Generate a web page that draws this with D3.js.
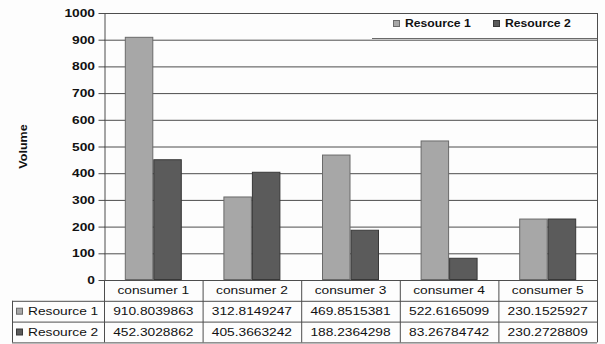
<!DOCTYPE html>
<html>
<head>
<meta charset="utf-8">
<script src="https://cdn.jsdelivr.net/npm/d3@7/dist/d3.min.js"></script>
<style>
  html, body { margin: 0; padding: 0; background: #fdfdfd; }
  svg { display: block; font-family: "Liberation Sans", Arial, sans-serif; }
</style>
</head>
<body>
<svg id="chart" width="605" height="344"></svg>
<script>
// Categories and series
const categories = ["consumer 1", "consumer 2", "consumer 3", "consumer 4", "consumer 5"];
const seriesNames = ["Resource 1", "Resource 2"];
const resource1 = [910.8039863, 312.8149247, 469.8515381, 522.6165099, 230.1525927];
const resource2 = [452.3028862, 405.3663242, 188.2364298, 83.26784742, 230.2728809];
const yTicks = [0, 100, 200, 300, 400, 500, 600, 700, 800, 900, 1000];
const seriesValues = [resource1, resource2];

const fills = ["#a7a7a7", "#5b5b5b"];
const strokes = ["#6a6a6a", "#383838"];
const ink = "#111";
const lineCol = "#4d4d4d";
const SX = 1.25; // horizontal text stretch

const svg = d3.select("#chart");

const plot = { left: 104, right: 597, top: 13, bottom: 280 };
const tableLeft = 12;
const rowH = 20.8;

const y = d3.scaleLinear().domain([0, 1000]).range([plot.bottom, plot.top]);
const x0 = d3.scaleBand().domain(categories).range([plot.left, plot.right]).padding(0);
const x1 = d3.scaleBand().domain(seriesNames).range([0, x0.bandwidth()])
  .paddingInner(0).paddingOuter(0.73);

function stretched(g, txt, x, yy, opts) {
  opts = opts || {};
  return g.append("text")
    .attr("transform", `translate(${x},${yy}) scale(${opts.sx || SX},1)`)
    .attr("text-anchor", opts.anchor || "middle")
    .attr("dominant-baseline", "central")
    .attr("font-size", opts.size || 11)
    .attr("font-weight", opts.bold ? "bold" : "normal")
    .attr("fill", ink)
    .text(txt);
}

// Horizontal gridlines
svg.append("g").selectAll("line").data(yTicks.filter(d => d > 0)).join("line")
  .attr("x1", plot.left).attr("x2", plot.right)
  .attr("y1", d => y(d) + 0.5).attr("y2", d => y(d) + 0.5)
  .attr("stroke", lineCol).attr("stroke-width", 1);

// Bars
const groups = svg.append("g").selectAll("g").data(categories).join("g")
  .attr("transform", c => `translate(${x0(c)},0)`);
groups.selectAll("rect")
  .data((c, i) => seriesNames.map((s, k) => ({ s, k, v: seriesValues[k][i] })))
  .join("rect")
  .attr("x", d => x1(d.s) + 0.5)
  .attr("y", d => y(d.v) + 0.5)
  .attr("width", x1.bandwidth() - 1)
  .attr("height", d => y(0) - y(d.v) - 1)
  .attr("fill", d => fills[d.k])
  .attr("stroke", d => strokes[d.k])
  .attr("stroke-width", 1);

// Y axis
const yAxis = svg.append("g")
  .attr("transform", `translate(${plot.left + 0.5},0)`)
  .call(d3.axisLeft(y).tickValues(yTicks).tickSize(6).tickSizeOuter(0).tickFormat(d3.format("d")));
yAxis.select(".domain").attr("stroke", lineCol);
yAxis.selectAll(".tick line").attr("stroke", lineCol);
yAxis.selectAll(".tick text")
  .attr("x", -9.5 / SX)
  .attr("transform", `scale(${SX},1)`)
  .attr("font-size", 11)
  .attr("font-weight", "bold")
  .attr("font-family", "Liberation Sans, Arial, sans-serif")
  .attr("fill", ink);

// Y axis title
svg.append("text")
  .attr("transform", `translate(27,${(plot.top + plot.bottom) / 2}) rotate(-90) scale(1.14,1)`)
  .attr("text-anchor", "middle")
  .attr("font-size", 11)
  .attr("font-weight", "bold")
  .attr("fill", ink)
  .text("Volume");

// Right border of plot + table
svg.append("line")
  .attr("x1", plot.right + 0.5).attr("x2", plot.right + 0.5)
  .attr("y1", plot.top).attr("y2", plot.bottom + 3 * rowH)
  .attr("stroke", lineCol);

// Data table
const table = svg.append("g");
const rowY = [plot.bottom, plot.bottom + rowH, plot.bottom + 2 * rowH, plot.bottom + 3 * rowH];
// horizontal rules
[rowY[0]].forEach(v => table.append("line")
  .attr("x1", plot.left).attr("x2", plot.right)
  .attr("y1", v + 0.5).attr("y2", v + 0.5).attr("stroke", lineCol));
rowY.slice(1).forEach(v => table.append("line")
  .attr("x1", tableLeft).attr("x2", plot.right)
  .attr("y1", v + 0.5).attr("y2", v + 0.5).attr("stroke", lineCol));
// vertical rules
table.append("line").attr("x1", tableLeft + 0.5).attr("x2", tableLeft + 0.5)
  .attr("y1", rowY[1]).attr("y2", rowY[3]).attr("stroke", lineCol);
categories.forEach(c => table.append("line")
  .attr("x1", x0(c) + 0.5).attr("x2", x0(c) + 0.5)
  .attr("y1", rowY[0]).attr("y2", rowY[3]).attr("stroke", lineCol));

// header row
categories.forEach(c => stretched(table, c, x0(c) + x0.bandwidth() / 2, rowY[0] + rowH / 2 + 0.5));
// series rows
seriesNames.forEach((s, k) => {
  const cy = rowY[k + 1] + rowH / 2 + 0.5;
  table.append("rect")
    .attr("x", 16.5).attr("y", cy - 3.5).attr("width", 6).attr("height", 6)
    .attr("fill", fills[k]).attr("stroke", strokes[k]);
  stretched(table, s, 28, cy, { anchor: "start" });
  categories.forEach((c, i) => stretched(table, String(seriesValues[k][i]), x0(c) + x0.bandwidth() / 2, cy));
});

// Legend: white panel over the top gridline, closed by a rule underneath
const legend = svg.append("g");
legend.append("rect")
  .attr("x", 372).attr("y", 14).attr("width", 225).attr("height", 24)
  .attr("fill", "#fdfdfd");
legend.append("line")
  .attr("x1", 372).attr("x2", plot.right)
  .attr("y1", 38.5).attr("y2", 38.5)
  .attr("stroke", "#6a6a6a");
const legendX = [393, 493];
seriesNames.forEach((s, k) => {
  legend.append("rect")
    .attr("x", legendX[k] + 0.5).attr("y", 20.5).attr("width", 6).attr("height", 6)
    .attr("fill", fills[k]).attr("stroke", strokes[k]);
  stretched(legend, s, legendX[k] + 12, 23.5, { anchor: "start", bold: true, size: 10, sx: 1.22 });
});
</script>
</body>
</html>
